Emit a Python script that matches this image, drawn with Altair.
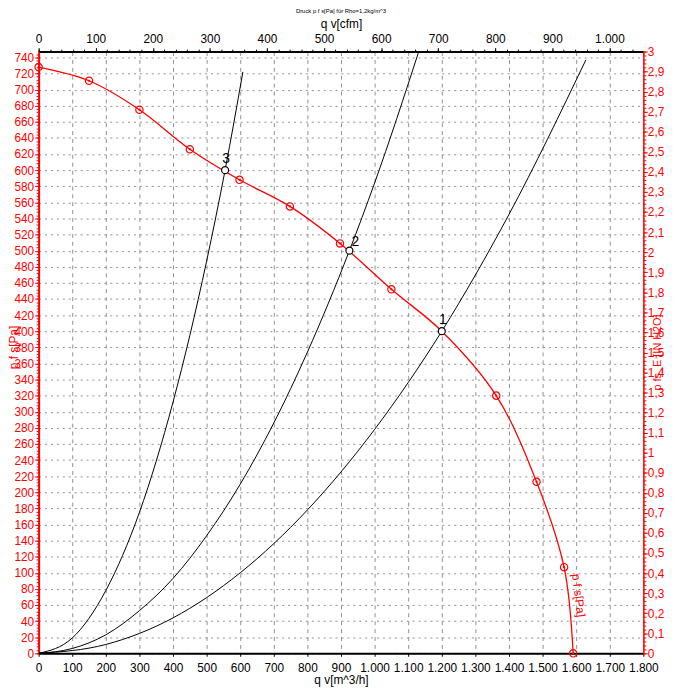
import altair as alt
import pandas as pd

PA_PER_INH2O = 249.089
M3H_PER_CFM = 1.69901
RED = "#ff0000"
FONT = "Liberation Sans"

# Fan curve p_fs [Pa] vs q_v [m^3/h] (marker points)
fan_q = [0, 150, 300, 450, 598, 748, 897, 1050, 1362, 1482, 1564, 1591]
fan_p = [728, 711, 675, 626, 588, 555, 509, 452, 320, 213, 107, 0]

# Operating points
op_q = [1200, 925, 555]
op_p = [400, 500, 600]
op_lbl = ["1", "2", "3"]

# System curves
sys1_q = [0, 200, 400, 600, 800, 1000, 1200, 1400, 1629]
sys1_p = [0, 11, 44, 100, 178, 278, 400, 545, 737]
sys2_q = [0, 100, 200, 300, 400, 500, 600, 700, 800, 925, 1000, 1132]
sys2_p = [0, 6, 23, 53, 93, 146, 210, 286, 374, 500, 584, 748]
sys3_q = [0, 100, 200, 300, 400, 500, 555, 608]
sys3_p = [0, 19, 78, 175, 312, 487, 600, 722]

# Axis ticks
bottom_ticks = list(range(0, 1801, 100))
left_ticks = list(range(0, 741, 20))
left_minor = list(range(0, 748, 4))
top_ticks_cfm = list(range(0, 1001, 100))
top_minor_cfm = list(range(0, 1061, 20))
right_ticks_inh2o = [round(i * 0.1, 1) for i in range(31)]
right_minor_inh2o = [round(i * 0.02, 2) for i in range(151)]

fan_df = pd.DataFrame({"q": fan_q, "p": fan_p})
line_df = pd.DataFrame({"q": fan_q + [op_q[0]], "p": fan_p + [op_p[0]]}).sort_values("q")
op_df = pd.DataFrame({"q": op_q, "p": op_p, "lbl": op_lbl})
sys_df = pd.concat([
    pd.DataFrame({"q": sys1_q, "p": sys1_p, "c": "1"}),
    pd.DataFrame({"q": sys2_q, "p": sys2_p, "c": "2"}),
    pd.DataFrame({"q": sys3_q, "p": sys3_p, "c": "3"}),
])

XS = alt.Scale(domain=[0, 1800], nice=False, zero=False)
YS = alt.Scale(domain=[0, 3 * PA_PER_INH2O], nice=False, zero=False)

bottom_axis = alt.Axis(
    orient="bottom", values=bottom_ticks,
    labelExpr="replace(format(datum.value, ','), ',', '.')",
    title="q v[m^3/h]", grid=True, gridDash=[4, 4], gridColor="#8f8f8f",
    domainColor="black", domainWidth=2, tickColor="black", tickSize=3,
    labelColor="black", labelFontSize=12, labelPadding=6,
    labelOverlap=False, labelFlush=False,
    titleColor="black", titleFontSize=12, titleFontWeight="normal", titlePadding=2,
)
left_axis = alt.Axis(
    orient="left", values=left_ticks, format="d",
    title="p f s[Pa]", grid=True, gridDash=[2, 4], gridColor="#8f8f8f",
    domainColor=RED, domainWidth=2, tickColor=RED, tickSize=4,
    labelColor=RED, labelFontSize=12, labelPadding=1,
    labelOverlap=False, labelFlush=False,
    titleColor=RED, titleFontSize=12, titleFontWeight="normal",
    titleAngle=270, titleX=-21, titleY=299, titleAlign="center", titleBaseline="alphabetic",
)
top_axis = alt.Axis(
    orient="top", values=[c * M3H_PER_CFM for c in top_ticks_cfm],
    labelExpr="replace(format(round(datum.value/1.69901), ','), ',', '.')",
    title="q v[cfm]", grid=False,
    domainColor="black", domainWidth=2, tickColor="black", tickSize=4,
    labelColor="black", labelFontSize=12, labelPadding=2,
    labelOverlap=False, labelFlush=False,
    titleColor="black", titleFontSize=12, titleFontWeight="normal", titlePadding=2,
)
right_axis = alt.Axis(
    orient="right", values=[v * PA_PER_INH2O for v in right_ticks_inh2o],
    labelExpr="replace(format(round(datum.value/24.9089)/10, '~g'), '.', ',')",
    title="p fs_E [IN H2O]", grid=False,
    domainColor=RED, domainWidth=1.5, tickColor=RED, tickSize=4,
    labelColor=RED, labelFontSize=12, labelPadding=0,
    labelOverlap=False, labelFlush=False,
    titleColor=RED, titleFontSize=11, titleFontWeight="normal",
    titleAngle=270, titleX=14, titleY=304, titleAlign="center", titleBaseline="middle",
)
left_minor_axis = alt.Axis(orient="left", values=left_minor, labels=False, domain=False,
                           grid=False, tickColor=RED, tickSize=2.5, title=None)
right_minor_axis = alt.Axis(orient="right", values=[v * PA_PER_INH2O for v in right_minor_inh2o],
                            labels=False, domain=False, grid=False, tickColor=RED,
                            tickSize=2.5, title=None)
top_minor_axis = alt.Axis(orient="top", values=[c * M3H_PER_CFM for c in top_minor_cfm],
                          labels=False, domain=False, grid=False, tickColor="black",
                          tickSize=2.5, title=None)

fan_line = alt.Chart(line_df).mark_line(color=RED, strokeWidth=1.3, interpolate="catmull-rom").encode(
    x=alt.X("q:Q", scale=XS, axis=bottom_axis),
    y=alt.Y("p:Q", scale=YS, axis=left_axis),
    order="q:Q",
)
sys_lines = alt.Chart(sys_df).mark_line(color="black", strokeWidth=1, interpolate="monotone").encode(
    x=alt.X("q:Q", scale=XS, axis=top_axis),
    y=alt.Y("p:Q", scale=YS, axis=right_axis),
    detail="c:N",
    order="q:Q",
)
minor_left = alt.Chart(fan_df).mark_point(opacity=0).encode(
    x=alt.X("q:Q", scale=XS, axis=None),
    y=alt.Y("p:Q", scale=YS, axis=left_minor_axis),
)
minor_right = alt.Chart(fan_df).mark_point(opacity=0).encode(
    x=alt.X("q:Q", scale=XS, axis=top_minor_axis),
    y=alt.Y("p:Q", scale=YS, axis=right_minor_axis),
)
fan_pts = alt.Chart(fan_df).mark_point(shape="circle", filled=False, color=RED, size=55,
                                       strokeWidth=1.2, opacity=1).encode(
    x=alt.X("q:Q", scale=XS, axis=None),
    y=alt.Y("p:Q", scale=YS, axis=None),
)
fan_dots = alt.Chart(fan_df).mark_point(shape="circle", filled=True, color=RED, size=5,
                                        opacity=1).encode(
    x=alt.X("q:Q", scale=XS, axis=None),
    y=alt.Y("p:Q", scale=YS, axis=None),
)
op_pts = alt.Chart(op_df).mark_point(shape="circle", filled=True, fill="white", stroke="black",
                                     size=50, strokeWidth=1.2, opacity=1).encode(
    x=alt.X("q:Q", scale=XS, axis=None),
    y=alt.Y("p:Q", scale=YS, axis=None),
)
op_txt13 = alt.Chart(op_df).transform_filter("datum.lbl != '2'").mark_text(
    fontSize=14, color="black", dy=-11, dx=1, font=FONT).encode(
    x=alt.X("q:Q", scale=XS, axis=None),
    y=alt.Y("p:Q", scale=YS, axis=None),
    text="lbl:N",
)
op_txt2 = alt.Chart(op_df).transform_filter("datum.lbl == '2'").mark_text(
    fontSize=14, color="black", dy=-9, dx=6, font=FONT).encode(
    x=alt.X("q:Q", scale=XS, axis=None),
    y=alt.Y("p:Q", scale=YS, axis=None),
    text="lbl:N",
)
curve_lbl = alt.Chart(pd.DataFrame({"q": [1607], "p": [72], "t": ["p f s[Pa]"]})).mark_text(
    fontSize=12, color=RED, angle=83, font=FONT).encode(
    x=alt.X("q:Q", scale=XS, axis=None),
    y=alt.Y("p:Q", scale=YS, axis=None),
    text="t:N",
)

chart = alt.layer(
    fan_line, sys_lines, minor_left, minor_right, fan_pts, fan_dots, op_pts,
    op_txt13, op_txt2, curve_lbl,
).resolve_axis(x="independent", y="independent").properties(
    width=612, height=609,
    autosize=alt.AutoSizeParams(type="none"),
    padding={"left": 31, "top": 40, "right": 31, "bottom": 30},
    title=alt.TitleParams("Druck p f s[Pa] für Rho=1,2kg/m^3", fontSize=6, fontWeight="normal",
                          font=FONT, color="black", anchor="middle", offset=4),
).configure(font=FONT).configure_view(stroke=None)

chart.save("out.html", embed_options={"renderer": "svg", "actions": False})
